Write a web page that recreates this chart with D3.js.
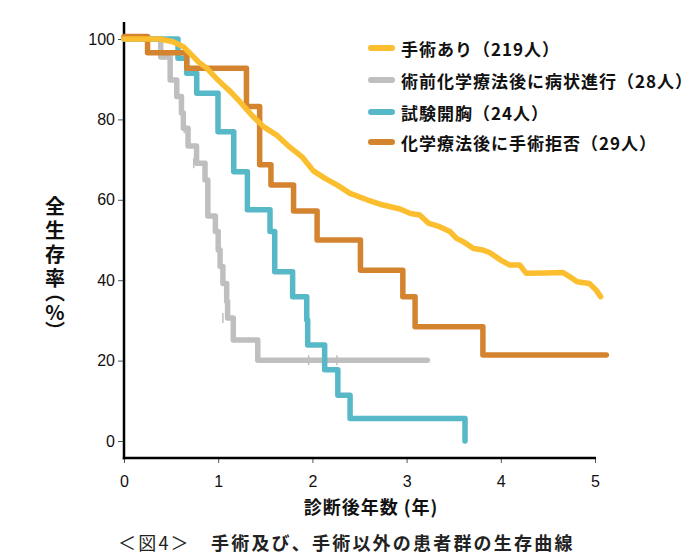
<!DOCTYPE html>
<html><head><meta charset="utf-8">
<script src="https://cdn.jsdelivr.net/npm/d3@7"></script>
<style>body{margin:0;background:#fff}svg{display:block}</style>
</head><body><svg id="c" width="700" height="560"></svg>
<script>
// ---- data ----
const seriesNames = ["手術あり（219人）","術前化学療法後に病状進行（28人）","試験開胸（24人）","化学療法後に手術拒否（29人）"];
const seriesColors = ["#FBBE2E","#BFBFBF","#57B8C7","#D4832F"];
// [years, survival %]
const surgery = [[0,100],[0.38,100],[0.52,99.3],[0.63,98.1],[0.72,96.0],[0.79,94.3],[0.88,92.7],[0.98,90.2],[1.05,88.6],[1.13,86.9],[1.23,84.4],[1.37,80.7],[1.48,78.2],[1.62,76.1],[1.74,73.5],[1.89,70.7],[2.01,67.2],[2.13,65.4],[2.26,63.7],[2.40,61.6],[2.58,60.0],[2.75,58.7],[2.93,57.7],[3.04,56.6],[3.14,56.2],[3.23,54.2],[3.35,53.3],[3.46,52.1],[3.53,50.4],[3.60,49.6],[3.71,47.9],[3.81,47.5],[3.88,46.9],[4.00,45.0],[4.09,43.8],[4.20,43.8],[4.27,41.7],[4.46,41.8],[4.66,41.9],[4.73,40.9],[4.81,39.6],[4.94,39.2],[5.01,37.6],[5.06,35.9]];
const progression = [[0,100],[0.39,95.5],[0.49,89.8],[0.56,85.7],[0.61,81.6],[0.63,77.8],[0.68,73.4],[0.77,69.1],[0.86,64.9],[0.89,56.0],[0.97,52.1],[1.00,47.5],[1.02,43.4],[1.05,39.2],[1.09,34.7],[1.10,30.6],[1.16,25.1],[1.42,20.1],[3.22,20.1]];
const progressionCensored = [[0.64,77.8],[0.74,69.1],[1.05,30.6],[1.96,20.1],[2.26,20.1]];
const thoracotomy = [[0,100],[0.573,95.2],[0.666,91.5],[0.772,86.5],[0.998,76.9],[1.165,67.0],[1.31,57.5],[1.55,52.1],[1.60,42.1],[1.79,35.9],[1.94,30.1],[1.95,23.9],[2.13,17.7],[2.27,11.4],[2.40,5.6],[3.62,0]];
const refusal = [[0,100.6],[0.25,96.6],[0.666,92.7],[1.30,83.2],[1.44,68.7],[1.56,63.7],[1.80,57.2],[2.05,50.0],[2.51,42.5],[2.96,35.9],[3.09,28.4],[3.81,21.4],[5.12,21.4]];
const xTicks = [0,1,2,3,4,5];
const yTicks = [0,20,40,60,80,100];
const yTitleMain = "全生存率";
const yTitleUnit = "（%）";
const xTitle = "診断後年数 (年)";
const captionHead = "＜図4＞　";
const captionBody = "手術及び、手術以外の患者群の生存曲線";

// ---- drawing ----
const svg = d3.select("#c");
const x = d3.scaleLinear().domain([0,5]).range([124,595]);
const y = d3.scaleLinear().domain([0,100]).range([441,39]);
const numFont = "'Liberation Sans', Arial, sans-serif";
const cjkFont = "'Noto Sans CJK JP', 'Noto Sans', sans-serif";

// axes
const yAxis = d3.axisLeft(y).tickValues(yTicks).tickSize(6).tickPadding(3).tickSizeOuter(0).tickFormat(d3.format("d"));
const gy = svg.append("g").attr("transform","translate(124,0)").call(yAxis);
gy.select(".domain").remove();
gy.selectAll("line").attr("stroke","#555").attr("stroke-width",1);
gy.selectAll("text").attr("font-family",numFont).attr("font-size",16).attr("fill","#111");

const xAxis = d3.axisBottom(x).tickValues(xTicks).tickSize(5).tickPadding(13).tickSizeOuter(0).tickFormat(d3.format("d"));
const gx = svg.append("g").attr("transform","translate(0,458)").call(xAxis);
gx.select(".domain").remove();
gx.selectAll("line").attr("stroke","#555").attr("stroke-width",1);
gx.selectAll("text").attr("font-family",numFont).attr("font-size",16).attr("fill","#111");

svg.append("line").attr("x1",124).attr("x2",124).attr("y1",y(104.2)).attr("y2",459.2)
  .attr("stroke","#000").attr("stroke-width",2.5);
svg.append("line").attr("x1",122.8).attr("x2",x(5)+1).attr("y1",458).attr("y2",458)
  .attr("stroke","#000").attr("stroke-width",2.5);

// curves (draw order: gray, teal, orange, yellow)
const stepLine = d3.line().x(d=>x(d[0])).y(d=>y(d[1])).curve(d3.curveStepAfter);
const smoothLine = d3.line().x(d=>x(d[0])).y(d=>y(d[1])).curve(d3.curveLinear);
const curves = [
  {data:progression, color:seriesColors[1], gen:stepLine},
  {data:thoracotomy, color:seriesColors[2], gen:stepLine},
  {data:refusal, color:seriesColors[3], gen:stepLine},
  {data:surgery, color:seriesColors[0], gen:smoothLine}
];
curves.forEach(c=>{
  svg.append("path").attr("d",c.gen(c.data)).attr("fill","none")
    .attr("stroke",c.color).attr("stroke-width",5.5)
    .attr("stroke-linejoin","round").attr("stroke-linecap","round");
});
svg.selectAll(".cens").data(progressionCensored).enter().append("line")
  .attr("x1",d=>x(d[0])).attr("x2",d=>x(d[0]))
  .attr("y1",d=>y(d[1])-5).attr("y2",d=>y(d[1])+5)
  .attr("stroke",seriesColors[1]).attr("stroke-width",1.5);

// legend
const legY = [48,80,112,142];
seriesNames.forEach((n,i)=>{
  svg.append("line").attr("x1",371).attr("x2",392).attr("y1",legY[i]).attr("y2",legY[i])
    .attr("stroke",seriesColors[i]).attr("stroke-width",6).attr("stroke-linecap","round");
  svg.append("text").attr("x",401).attr("y",legY[i]).attr("dominant-baseline","central")
    .attr("font-family",cjkFont).attr("font-weight","bold").attr("font-size",17)
    .attr("letter-spacing",1).attr("fill","#111").text(n);
});

// y title (vertical, single text element)
const yt = svg.append("text").attr("x",55).attr("y",196)
  .attr("font-family",cjkFont).attr("font-weight","bold").attr("font-size",20)
  .attr("fill","#111")
  .style("writing-mode","vertical-rl").style("text-orientation","upright");
yt.append("tspan").style("letter-spacing","4px").text(yTitleMain);
yt.append("tspan").style("letter-spacing","0px").style("font-feature-settings","'vpal'").text(yTitleUnit);

// x title
svg.append("text").attr("x",371).attr("y",514).attr("text-anchor","middle")
  .attr("font-family",cjkFont).attr("font-weight","bold").attr("font-size",18)
  .attr("letter-spacing",1).attr("fill","#111").text(xTitle);

// caption
const cap = svg.append("text").attr("x",118).attr("y",550)
  .attr("font-family",cjkFont).attr("font-size",18).attr("letter-spacing",2.2).attr("fill","#222");
cap.append("tspan").attr("font-weight","normal").text(captionHead);
cap.append("tspan").attr("font-weight","bold").text(captionBody);
</script>
</body></html>
